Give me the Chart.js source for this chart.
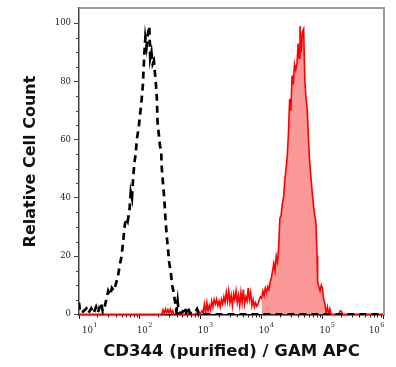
<!DOCTYPE html>
<html><head><meta charset="utf-8">
<script src="https://cdn.jsdelivr.net/npm/chart.js@4.4.1/dist/chart.umd.min.js"></script>
<style>html,body{margin:0;padding:0;background:#fff;}canvas{display:block;}</style>
</head><body>
<canvas id="c" width="396" height="367"></canvas>
<script>
// ---- data (x as log10 of fluorescence intensity) ----
const xTickExps = [1, 2, 3, 4, 5, 6];
const yTicks = [0, 20, 40, 60, 80, 100];

const blackExp = [1.00,1.02,1.07,1.12,1.15,1.20,1.24,1.28,1.31,1.36,1.39,1.42,1.46,1.48,1.51,1.54,1.57,1.60,1.64,1.67,1.70,1.73,1.755,1.78,1.80,1.83,1.85,1.87,1.89,1.91,1.93,1.95,1.98,2.00,2.03,2.05,2.06,2.075,2.09,2.11,2.13,2.155,2.17,2.19,2.21,2.23,2.26,2.28,2.29,2.31,2.33,2.35,2.36,2.38,2.40,2.42,2.44,2.46,2.48,2.51,2.53,2.55,2.58,2.60,2.62,2.64,2.68,2.71,2.74,2.76,2.79,2.82,2.91,2.94,2.97,3.00,6.01];
const blackVal = [4,0.5,1,2,0.3,2,0.3,2.5,0.5,4,1,2.5,6,8,6.5,9,8,10,13,17,20,26,31,33,32,36,42,40,47,52,55,60,64,68,74,79,84,90,95,92,96,99,88,90,86,87,80,74,66,62,58,56,50,45,40,33,27,23,18,14,10,8,4,1,4.5,0.5,0.5,1,2.5,0.5,2.5,0.3,0.5,1.8,0.3,0,0];

const redExp = [1.00,2.36,2.38,2.40,2.42,2.44,2.46,2.48,2.50,2.52,2.54,2.56,2.90,2.96,2.99,3.02,3.04,3.06,3.08,3.10,3.12,3.14,3.16,3.18,3.20,3.22,3.24,3.26,3.28,3.30,3.32,3.34,3.36,3.38,3.40,3.42,3.44,3.46,3.48,3.50,3.52,3.54,3.56,3.58,3.60,3.62,3.64,3.66,3.68,3.70,3.72,3.74,3.76,3.78,3.80,3.82,3.84,3.86,3.88,3.90,3.92,3.94,3.96,3.98,4.00,4.02,4.04,4.06,4.08,4.10,4.12,4.14,4.16,4.18,4.20,4.22,4.24,4.26,4.28,4.30,4.32,4.34,4.36,4.38,4.40,4.42,4.44,4.46,4.48,4.50,4.52,4.54,4.56,4.58,4.60,4.615,4.63,4.65,4.67,4.69,4.71,4.73,4.75,4.77,4.79,4.81,4.83,4.85,4.87,4.89,4.91,4.92,4.94,4.96,4.98,5.00,5.02,5.04,5.06,5.08,5.10,5.12,5.14,5.27,5.29,5.31,5.33,6.01];
const redVal = [0,0,1.5,0.3,1.8,0.5,1.6,0.4,1.8,0.3,1.2,0,0,0.6,0,1.2,0.3,3.5,0.6,4,1,3,1.5,4.5,2.5,5,3.5,5.2,3,4.5,2.5,5,3.5,6,4,7.5,4.5,8,4,6.5,3,7,5,8,4,6.5,3,7.5,4,8.5,3.5,6,4.5,9,5,7.5,3,5,2.5,4,2.8,3.5,5,6,5.5,8,6.5,9,7.5,9.5,8.5,11,12.5,15,17.5,15,20,18,23,33,34,38,40,46,50,54,62,74,70,82,79,86,84,86,93,88,99,90,97,98,80,74,70,60,52,47,42,38,34,32,20,11,9.5,8,10,9,5,3.5,0.5,2.5,0,1.8,0,0,1.2,1,0,0];

// gated (filled) interval, log10 units
const gateLo = 4.0;
const gateHi = 5.06;

const blackPts = blackExp.map((e, i) => ({x: Math.pow(10, e), y: blackVal[i]}));
const redPts = redExp.map((e, i) => ({x: Math.pow(10, e), y: redVal[i]}));
const redFillPts = redExp.map((e, i) => ({e, x: Math.pow(10, e), y: redVal[i]}))
  .filter(p => p.e >= gateLo - 1e-9 && p.e <= gateHi + 1e-9).map(p => ({x: p.x, y: p.y}));

const decor = {
  id: 'decor',
  afterDraw(chart) {
    const {ctx, chartArea: a, scales: {x, y}} = chart;
    ctx.save();
    // top/right frame
    ctx.strokeStyle = '#9a9a9a'; ctx.lineWidth = 2;
    ctx.beginPath(); ctx.moveTo(a.left, a.top); ctx.lineTo(a.right, a.top); ctx.lineTo(a.right, a.bottom); ctx.stroke();
    // minor y ticks
    ctx.strokeStyle = '#444'; ctx.lineWidth = 1;
    for (let v = 5; v <= 100; v += 5) {
      if (v % 20 === 0) continue;
      const py = Math.round(y.getPixelForValue(v)) + 0.5;
      ctx.beginPath(); ctx.moveTo(a.left - 3, py); ctx.lineTo(a.left, py); ctx.stroke();
    }
    // minor x ticks
    ctx.strokeStyle = '#222';
    for (let n = 1; n < 6; n++) for (let k = 2; k < 10; k++) {
      const px = Math.round(x.getPixelForValue(k * Math.pow(10, n))) + 0.5;
      ctx.beginPath(); ctx.moveTo(px, a.bottom); ctx.lineTo(px, a.bottom + 2.5); ctx.stroke();
    }
    // x tick labels 10^n
    ctx.fillStyle = '#222'; ctx.textAlign = 'left'; ctx.textBaseline = 'alphabetic';
    xTickExps.forEach((e, i) => {
      const px = x.getPixelForValue(Math.pow(10, e));
      ctx.font = '8.5px "DejaVu Serif"';
      const wb = ctx.measureText('10').width;
      ctx.font = '6.5px "DejaVu Serif"';
      const ws = ctx.measureText(String(e)).width;
      const w = wb + ws + 0.5;
      let left;
      if (i === 0) left = px + 3;
      else if (i === xTickExps.length - 1) left = px + 1 - w;
      else left = px - 3;
      ctx.font = '8.5px "DejaVu Serif"'; ctx.fillText('10', left, 332.5);
      ctx.font = '6.5px "DejaVu Serif"'; ctx.fillText(String(e), left + wb + 0.5, 327);
    });
    ctx.restore();
  }
};

new Chart(document.getElementById('c'), {
  type: 'line',
  data: {
    datasets: [
      {data: blackPts, borderColor: '#000', borderWidth: 2.7, borderDash: [7, 5], pointRadius: 0, fill: false, tension: 0, order: 0},
      {data: redPts, borderColor: '#ff0000', borderWidth: 1.6, pointRadius: 0, fill: false, tension: 0, order: 1},
      {data: redFillPts, borderColor: 'rgba(0,0,0,0)', borderWidth: 0, backgroundColor: 'rgb(250,152,152)', pointRadius: 0, fill: 'origin', tension: 0, order: 2}
    ]
  },
  options: {
    responsive: false,
    animation: false,
    devicePixelRatio: 1,
    layout: {padding: {top: 8, right: 12, left: 0, bottom: 0}},
    plugins: {legend: {display: false}, tooltip: {enabled: false}},
    scales: {
      x: {
        type: 'logarithmic',
        min: 10, max: Math.pow(10, 6.01),
        afterBuildTicks: s => { s.ticks = xTickExps.map(e => ({value: Math.pow(10, e)})); },
        afterFit: s => { s.height = 52; },
        grid: {drawOnChartArea: false, drawTicks: true, tickLength: 4, tickColor: '#222'},
        border: {display: true, color: '#000', width: 1.5},
        ticks: {display: false},
        title: {display: true, text: 'CD344 (purified) / GAM APC', color: '#111',
          font: {family: '"DejaVu Sans"', size: 16.5, weight: 'bold'}, padding: {top: 0, bottom: 5}}
      },
      y: {
        type: 'linear',
        min: -0.25, max: 105.2,
        afterBuildTicks: s => { s.ticks = yTicks.map(v => ({value: v})); },
        afterFit: s => { s.width = 79; },
        grid: {drawOnChartArea: false, drawTicks: true, tickLength: 5, tickColor: '#444'},
        border: {display: true, color: '#444', width: 1.5},
        ticks: {color: '#222', padding: 3, font: {family: '"DejaVu Serif"', size: 8.5}},
        title: {display: true, text: 'Relative Cell Count', color: '#111',
          font: {family: '"DejaVu Sans"', size: 16, weight: 'bold'}, padding: {top: 21, bottom: 0}}
      }
    }
  },
  plugins: [decor]
});
</script>
</body></html>
